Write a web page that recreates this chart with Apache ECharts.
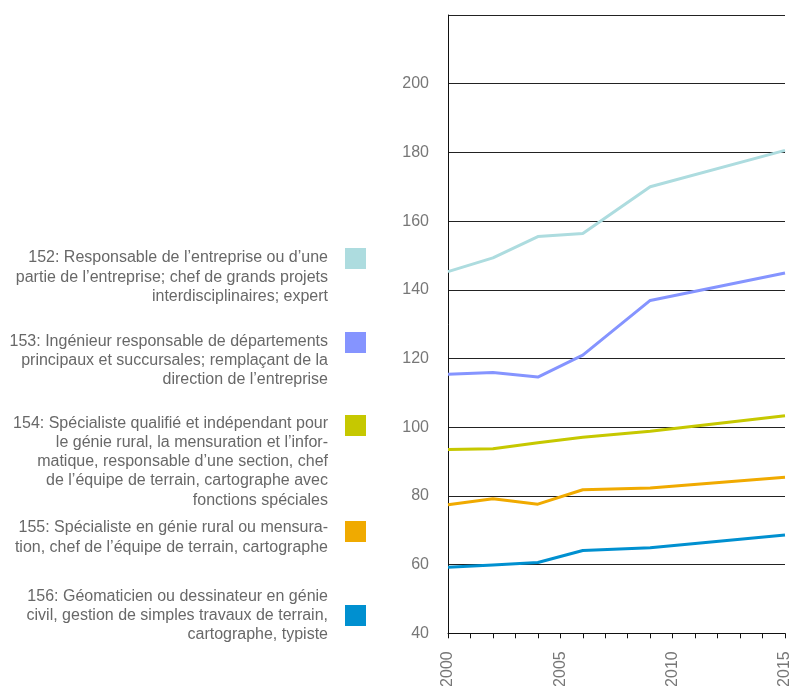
<!DOCTYPE html>
<html>
<head>
<meta charset="utf-8">
<script src="https://cdn.jsdelivr.net/npm/echarts@6/dist/echarts.min.js"></script>
<style>
html,body{margin:0;padding:0;background:#fff;}
#c{width:795px;height:686px;}
</style>
</head>
<body>
<div id="c"></div>
<script>
const years = [2000, 2002, 2004, 2006, 2009, 2015];
const s152 = [145.3, 149.3, 155.5, 156.4, 170.0, 180.6];
const s153 = [115.4, 115.9, 114.6, 121.0, 136.9, 144.9];
const s154 = [93.5, 93.7, 95.5, 97.1, 98.8, 103.3];
const s155 = [77.4, 79.2, 77.6, 81.8, 82.3, 85.4];
const s156 = [59.2, 59.9, 60.6, 64.1, 64.9, 68.6];

const seriesNames = ['152', '153', '154', '155', '156'];
const seriesColors = ['#addcdf', '#8594ff', '#c6c800', '#f0aa00', '#0090d0'];
const legendTexts = [
  ['152: Responsable de l’entreprise ou d’une', 'partie de l’entreprise; chef de grands projets', 'interdisciplinaires; expert'],
  ['153: Ingénieur responsable de départements', 'principaux et succursales; remplaçant de la', 'direction de l’entreprise'],
  ['154: Spécialiste qualifié et indépendant pour', 'le génie rural, la mensuration et l’infor-', 'matique, responsable d’une section, chef', 'de l’équipe de terrain, cartographe avec', 'fonctions spéciales'],
  ['155: Spécialiste en génie rural ou mensura-', 'tion, chef de l’équipe de terrain, cartographe'],
  ['156: Géomaticien ou dessinateur en génie', 'civil, gestion de simples travaux de terrain,', 'cartographe, typiste']
];
const yTickMin = 40, yTickMax = 220, yTickStep = 20;
const xMin = 2000, xMax = 2015;
const xLabelYears = [2000, 2005, 2010, 2015];

const allSeries = [s152, s153, s154, s155, s156];

const legendTextTop = [248.4, 332, 413.7, 518.4, 587];
const legendSquareTop = [248, 332, 415, 521, 605];

const graphics = [];
legendTexts.forEach((lines, i) => {
  graphics.push({
    type: 'text', x: 328, y: legendTextTop[i],
    style: {
      text: lines.join('\n'),
      fill: '#686868',
      font: '16px "Liberation Sans", Arial, sans-serif',
      align: 'right', verticalAlign: 'top', lineHeight: 19.2
    }
  });
  graphics.push({
    type: 'rect', x: 345, y: legendSquareTop[i],
    shape: { x: 0, y: 0, width: 21, height: 21 },
    style: { fill: seriesColors[i] }
  });
});

const chart = echarts.init(document.getElementById('c'));
chart.setOption({
  animation: false,
  backgroundColor: '#fff',
  grid: { left: 448, right: 10, top: 15, bottom: 52.7, containLabel: false, outerBoundsMode: 'none' },
  xAxis: {
    type: 'value', min: xMin, max: xMax, interval: 1,
    axisLine: { show: true, lineStyle: { color: '#111', width: 1 } },
    axisTick: { show: true, length: 5, lineStyle: { color: '#111' } },
    splitLine: { show: false },
    axisLabel: {
      rotate: 90, margin: 18, color: '#777',
      fontFamily: '"Liberation Sans", Arial, sans-serif', fontSize: 16,
      formatter: v => xLabelYears.includes(v) ? String(v) : ''
    }
  },
  yAxis: {
    type: 'value', min: yTickMin, max: yTickMax, interval: yTickStep,
    axisLine: { show: true, lineStyle: { color: '#111', width: 1 } },
    axisTick: { show: false },
    splitLine: { show: true, lineStyle: { color: '#222', width: 1 } },
    axisLabel: {
      margin: 19, color: '#777',
      fontFamily: '"Liberation Sans", Arial, sans-serif', fontSize: 16,
      formatter: v => v >= yTickMax ? '' : String(v)
    }
  },
  series: allSeries.map((s, i) => ({
    name: seriesNames[i], type: 'line',
    data: years.map((y, j) => [y, s[j]]),
    showSymbol: false, symbol: 'none',
    lineStyle: { color: seriesColors[i], width: 3 },
    itemStyle: { color: seriesColors[i] },
    z: 3
  })),
  graphic: graphics
});
</script>
</body>
</html>
